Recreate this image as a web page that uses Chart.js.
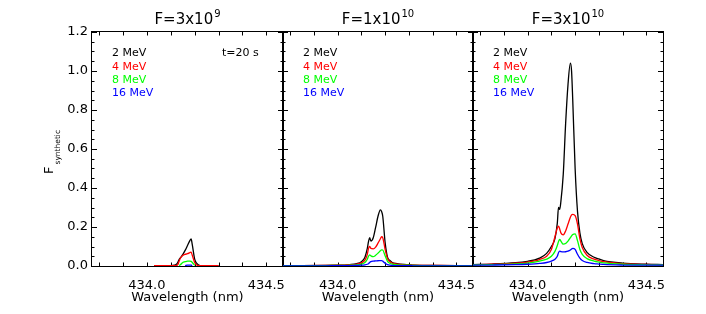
<!DOCTYPE html>
<html><head><meta charset="utf-8">
<script src="https://cdn.jsdelivr.net/npm/chart.js@4.4.1/dist/chart.umd.min.js"></script>
<style>
html,body{margin:0;padding:0;background:#fff;}
#wrap{position:relative;width:706px;height:314px;background:#fff;}
canvas{position:absolute;left:0;top:0;}
</style></head><body>
<div id="wrap">
<canvas id="c1" width="706" height="314"></canvas>
<canvas id="c2" width="706" height="314"></canvas>
<canvas id="c3" width="706" height="314"></canvas>
</div>
<script>
// ---------------- data ----------------
const wavelength = [433.77,433.85,433.95,434.00,434.03,434.05,434.08,434.10,434.115,434.125,
                    434.13,434.135,434.14,434.15,434.16,434.17,434.18,434.185,434.19,434.20,
                    434.21,434.22,434.23,434.25,434.28,434.30,434.32,434.40,434.50,434.57];
const seriesNames = ['2 MeV','4 MeV','8 MeV','16 MeV'];
const panelMantissa = ['3','1','3'];
const panelExponent = ['9','10','10'];
const timeLabel = 't=20 s';
const xTickValues = [434.0, 434.5];
const yTickValues = [0.0,0.2,0.4,0.6,0.8,1.0,1.2];
const yTitleMain = 'F';
const yTitleSub = 'synthetic';
const xTitle = 'Wavelength (nm)';

// F = 3x10^9
const f3e9_2MeV  = [null,null,null,null,0.002,0.002,0.002,0.002,0.004,0.010,
                    0.020,0.033,0.042,0.058,0.080,0.105,0.130,0.139,0.110,0.035,
                    0.012,0.003,0.002,0.002,0.002,0.002,null,null,null,null];
const f3e9_4MeV  = [null,null,null,null,0.002,0.002,0.002,0.002,0.002,0.003,
                    0.008,0.025,0.040,0.054,0.060,0.063,0.069,0.071,0.055,0.018,
                    0.004,0.002,0.002,0.002,0.002,0.002,null,null,null,null];
const f3e9_8MeV  = [null,null,null,null,null,null,null,null,null,null,
                    null,0.002,0.006,0.018,0.022,0.025,0.025,0.024,0.018,0.003,
                    null,null,null,null,null,null,null,null,null,null];
const f3e9_16MeV = [null,null,null,null,null,null,null,null,null,null,
                    null,null,null,null,0.002,0.005,0.005,0.004,0.002,null,
                    null,null,null,null,null,null,null,null,null,null];
// F = 1x10^10
const f1e10_2MeV  = [0.002,0.002,0.003,0.004,0.005,0.007,0.012,0.022,0.045,0.090,
                     0.125,0.145,0.128,0.145,0.198,0.255,0.288,0.280,0.255,0.120,
                     0.045,0.028,0.018,0.012,0.008,0.007,0.005,0.003,0.002,0.002];
const f1e10_4MeV  = [0.002,0.002,0.003,0.004,0.005,0.006,0.010,0.016,0.030,0.060,
                     0.090,0.100,0.090,0.088,0.097,0.117,0.140,0.150,0.145,0.085,
                     0.038,0.022,0.015,0.009,0.006,0.005,0.004,0.003,0.002,0.002];
const f1e10_8MeV  = [0.002,0.002,0.002,0.003,0.003,0.004,0.006,0.010,0.018,0.035,
                     0.050,0.057,0.052,0.048,0.055,0.066,0.078,0.083,0.082,0.052,
                     0.024,0.014,0.009,0.006,0.004,0.004,0.003,0.002,0.002,0.002];
const f1e10_16MeV = [0.001,0.001,0.001,0.002,0.002,0.002,0.003,0.004,0.006,0.009,
                     0.012,0.018,0.022,0.025,0.026,0.027,0.028,0.028,0.025,0.014,
                     0.007,0.004,0.003,0.002,0.002,0.002,0.001,0.001,0.001,0.001];
// F = 3x10^10
const f3e10_2MeV  = [0.007,0.010,0.017,0.024,0.031,0.040,0.065,0.100,0.140,0.220,
                     0.300,0.290,0.330,0.470,0.730,0.930,1.040,1.000,0.850,0.500,
                     0.280,0.170,0.115,0.070,0.045,0.036,0.028,0.015,0.009,0.007];
const f3e10_4MeV  = [0.006,0.009,0.014,0.020,0.026,0.033,0.050,0.085,0.150,0.195,
                     0.205,0.190,0.170,0.160,0.180,0.215,0.250,0.262,0.265,0.258,
                     0.215,0.140,0.095,0.055,0.035,0.028,0.022,0.012,0.008,0.006];
const f3e10_8MeV  = [0.005,0.007,0.011,0.015,0.020,0.025,0.035,0.050,0.075,0.105,
                     0.125,0.136,0.128,0.112,0.115,0.128,0.145,0.155,0.162,0.165,
                     0.130,0.085,0.060,0.038,0.025,0.020,0.016,0.009,0.006,0.005];
const f3e10_16MeV = [0.004,0.005,0.007,0.009,0.011,0.013,0.018,0.025,0.035,0.050,
                     0.068,0.076,0.074,0.072,0.073,0.076,0.082,0.087,0.090,0.085,
                     0.060,0.040,0.028,0.018,0.012,0.010,0.008,0.005,0.004,0.004];

// ---------------- styling / layout ----------------
const seriesColors = ['#000000','#ff0000','#00ff00','#0000ff'];
const FONT = '"DejaVu Sans", "Liberation Sans", sans-serif';
const W = 706, H = 314;
const AREA_TOP = 32, AREA_BOTTOM = 266;
const panelLeft = [92, 283, 473];
const panelRight = [283, 473, 663];
const xMin = 433.77, xMax = 434.57;

const decor = {
  id: 'decor',
  beforeDatasetsDraw(chart, args, opts) {
    const ctx = chart.ctx, a = chart.chartArea;
    const xs = chart.scales.x, ys = chart.scales.y;
    ctx.save();
    ctx.strokeStyle = '#000';
    ctx.lineWidth = 1;
    ctx.strokeRect(a.left - 0.5, a.top - 0.5, a.right - a.left + 1, a.bottom - a.top + 1);
    ctx.beginPath();
    for (let k = 0; k <= 24; k++) {
      const v = k * 0.05;
      const py = Math.round(ys.getPixelForValue(v)) + 0.5;
      const len = (k % 4 === 0) ? 5 : 2.5;
      ctx.moveTo(a.left, py); ctx.lineTo(a.left + len, py);
      ctx.moveTo(a.right, py); ctx.lineTo(a.right - len, py);
    }
    for (let k = 0; k <= 7; k++) {
      const v = 433.8 + k * 0.1;
      const px = Math.round(xs.getPixelForValue(v)) + 0.5;
      ctx.moveTo(px, a.bottom); ctx.lineTo(px, a.bottom - 3.5);
      ctx.moveTo(px, a.top); ctx.lineTo(px, a.top + 3.5);
    }
    ctx.stroke();
    ctx.restore();
  },
  afterDraw(chart, args, opts) {
    const ctx = chart.ctx, a = chart.chartArea;
    const idx = opts.idx;
    ctx.save();
    ctx.fillStyle = '#000';
    ctx.textBaseline = 'alphabetic';
    ctx.textAlign = 'left';
    const main = 'F=' + panelMantissa[idx] + 'x10';
    ctx.font = '15px ' + FONT;
    const wm = ctx.measureText(main).width;
    ctx.font = '10px ' + FONT;
    const ws = ctx.measureText(panelExponent[idx]).width;
    const cx = (a.left + a.right) / 2;
    const x0 = cx - (wm + 1 + ws) / 2;
    ctx.font = '15px ' + FONT;
    ctx.fillText(main, x0, 24);
    ctx.font = '10px ' + FONT;
    ctx.fillText(panelExponent[idx], x0 + wm + 1, 17);
    ctx.font = '11px ' + FONT;
    ctx.textBaseline = 'middle';
    seriesNames.forEach((n, i) => {
      ctx.fillStyle = seriesColors[i];
      ctx.fillText(n, a.left + 20, 53.5 + i * 13.2);
    });
    if (idx === 0) {
      ctx.fillStyle = '#000';
      ctx.fillText(timeLabel, 222, 53.5);
      ctx.save();
      ctx.translate(53, 174);
      ctx.rotate(-Math.PI / 2);
      ctx.textBaseline = 'alphabetic';
      ctx.font = '13px ' + FONT;
      ctx.fillText(yTitleMain, 0, 0);
      const wf = ctx.measureText(yTitleMain).width;
      ctx.font = '7.5px ' + FONT;
      ctx.fillText(yTitleSub, wf + 2, 6.5);
      ctx.restore();
    }
    ctx.restore();
  }
};

function makeChart(id, idx, seriesData) {
  const datasets = seriesData.map((vals, i) => ({
    label: seriesNames[i],
    data: wavelength.map((w, j) => ({ x: w, y: vals[j] })),
    borderColor: seriesColors[i],
    borderWidth: 1.3,
    pointRadius: 0,
    fill: false,
    cubicInterpolationMode: 'monotone',
    order: 3 - i
  }));
  const yScale = {
    type: 'linear', min: 0, max: 1.2, display: idx === 0,
    afterBuildTicks: s => { s.ticks = yTickValues.map(v => ({ value: v })); },
    ticks: { callback: v => Number(v).toFixed(1), font: { family: FONT, size: 13 }, color: '#000', padding: 4 },
    grid: { display: false, drawTicks: false },
    border: { display: false }
  };
  if (idx === 0) yScale.afterFit = s => { s.width = panelLeft[0]; };
  return new Chart(document.getElementById(id), {
    type: 'line',
    data: { datasets },
    plugins: [decor],
    options: {
      responsive: false,
      animation: false,
      devicePixelRatio: 1,
      layout: { padding: { left: idx === 0 ? 0 : panelLeft[idx], right: W - panelRight[idx], top: AREA_TOP, bottom: 0 } },
      plugins: { legend: { display: false }, tooltip: { enabled: false }, title: { display: false }, decor: { idx } },
      scales: {
        x: {
          type: 'linear', min: xMin, max: xMax,
          afterBuildTicks: s => { s.ticks = xTickValues.map(v => ({ value: v })); },
          ticks: { callback: v => Number(v).toFixed(1), font: { family: FONT, size: 13 }, color: '#000', padding: 12, maxRotation: 0, autoSkip: false },
          grid: { display: false, drawTicks: false },
          border: { display: false },
          title: { display: true, text: xTitle, font: { family: FONT, size: 13 }, color: '#000', padding: { top: 0, bottom: 9 } },
          afterFit: s => { s.height = H - AREA_BOTTOM; }
        },
        y: yScale
      }
    }
  });
}

makeChart('c1', 0, [f3e9_2MeV, f3e9_4MeV, f3e9_8MeV, f3e9_16MeV]);
makeChart('c2', 1, [f1e10_2MeV, f1e10_4MeV, f1e10_8MeV, f1e10_16MeV]);
makeChart('c3', 2, [f3e10_2MeV, f3e10_4MeV, f3e10_8MeV, f3e10_16MeV]);
</script>
</body></html>
